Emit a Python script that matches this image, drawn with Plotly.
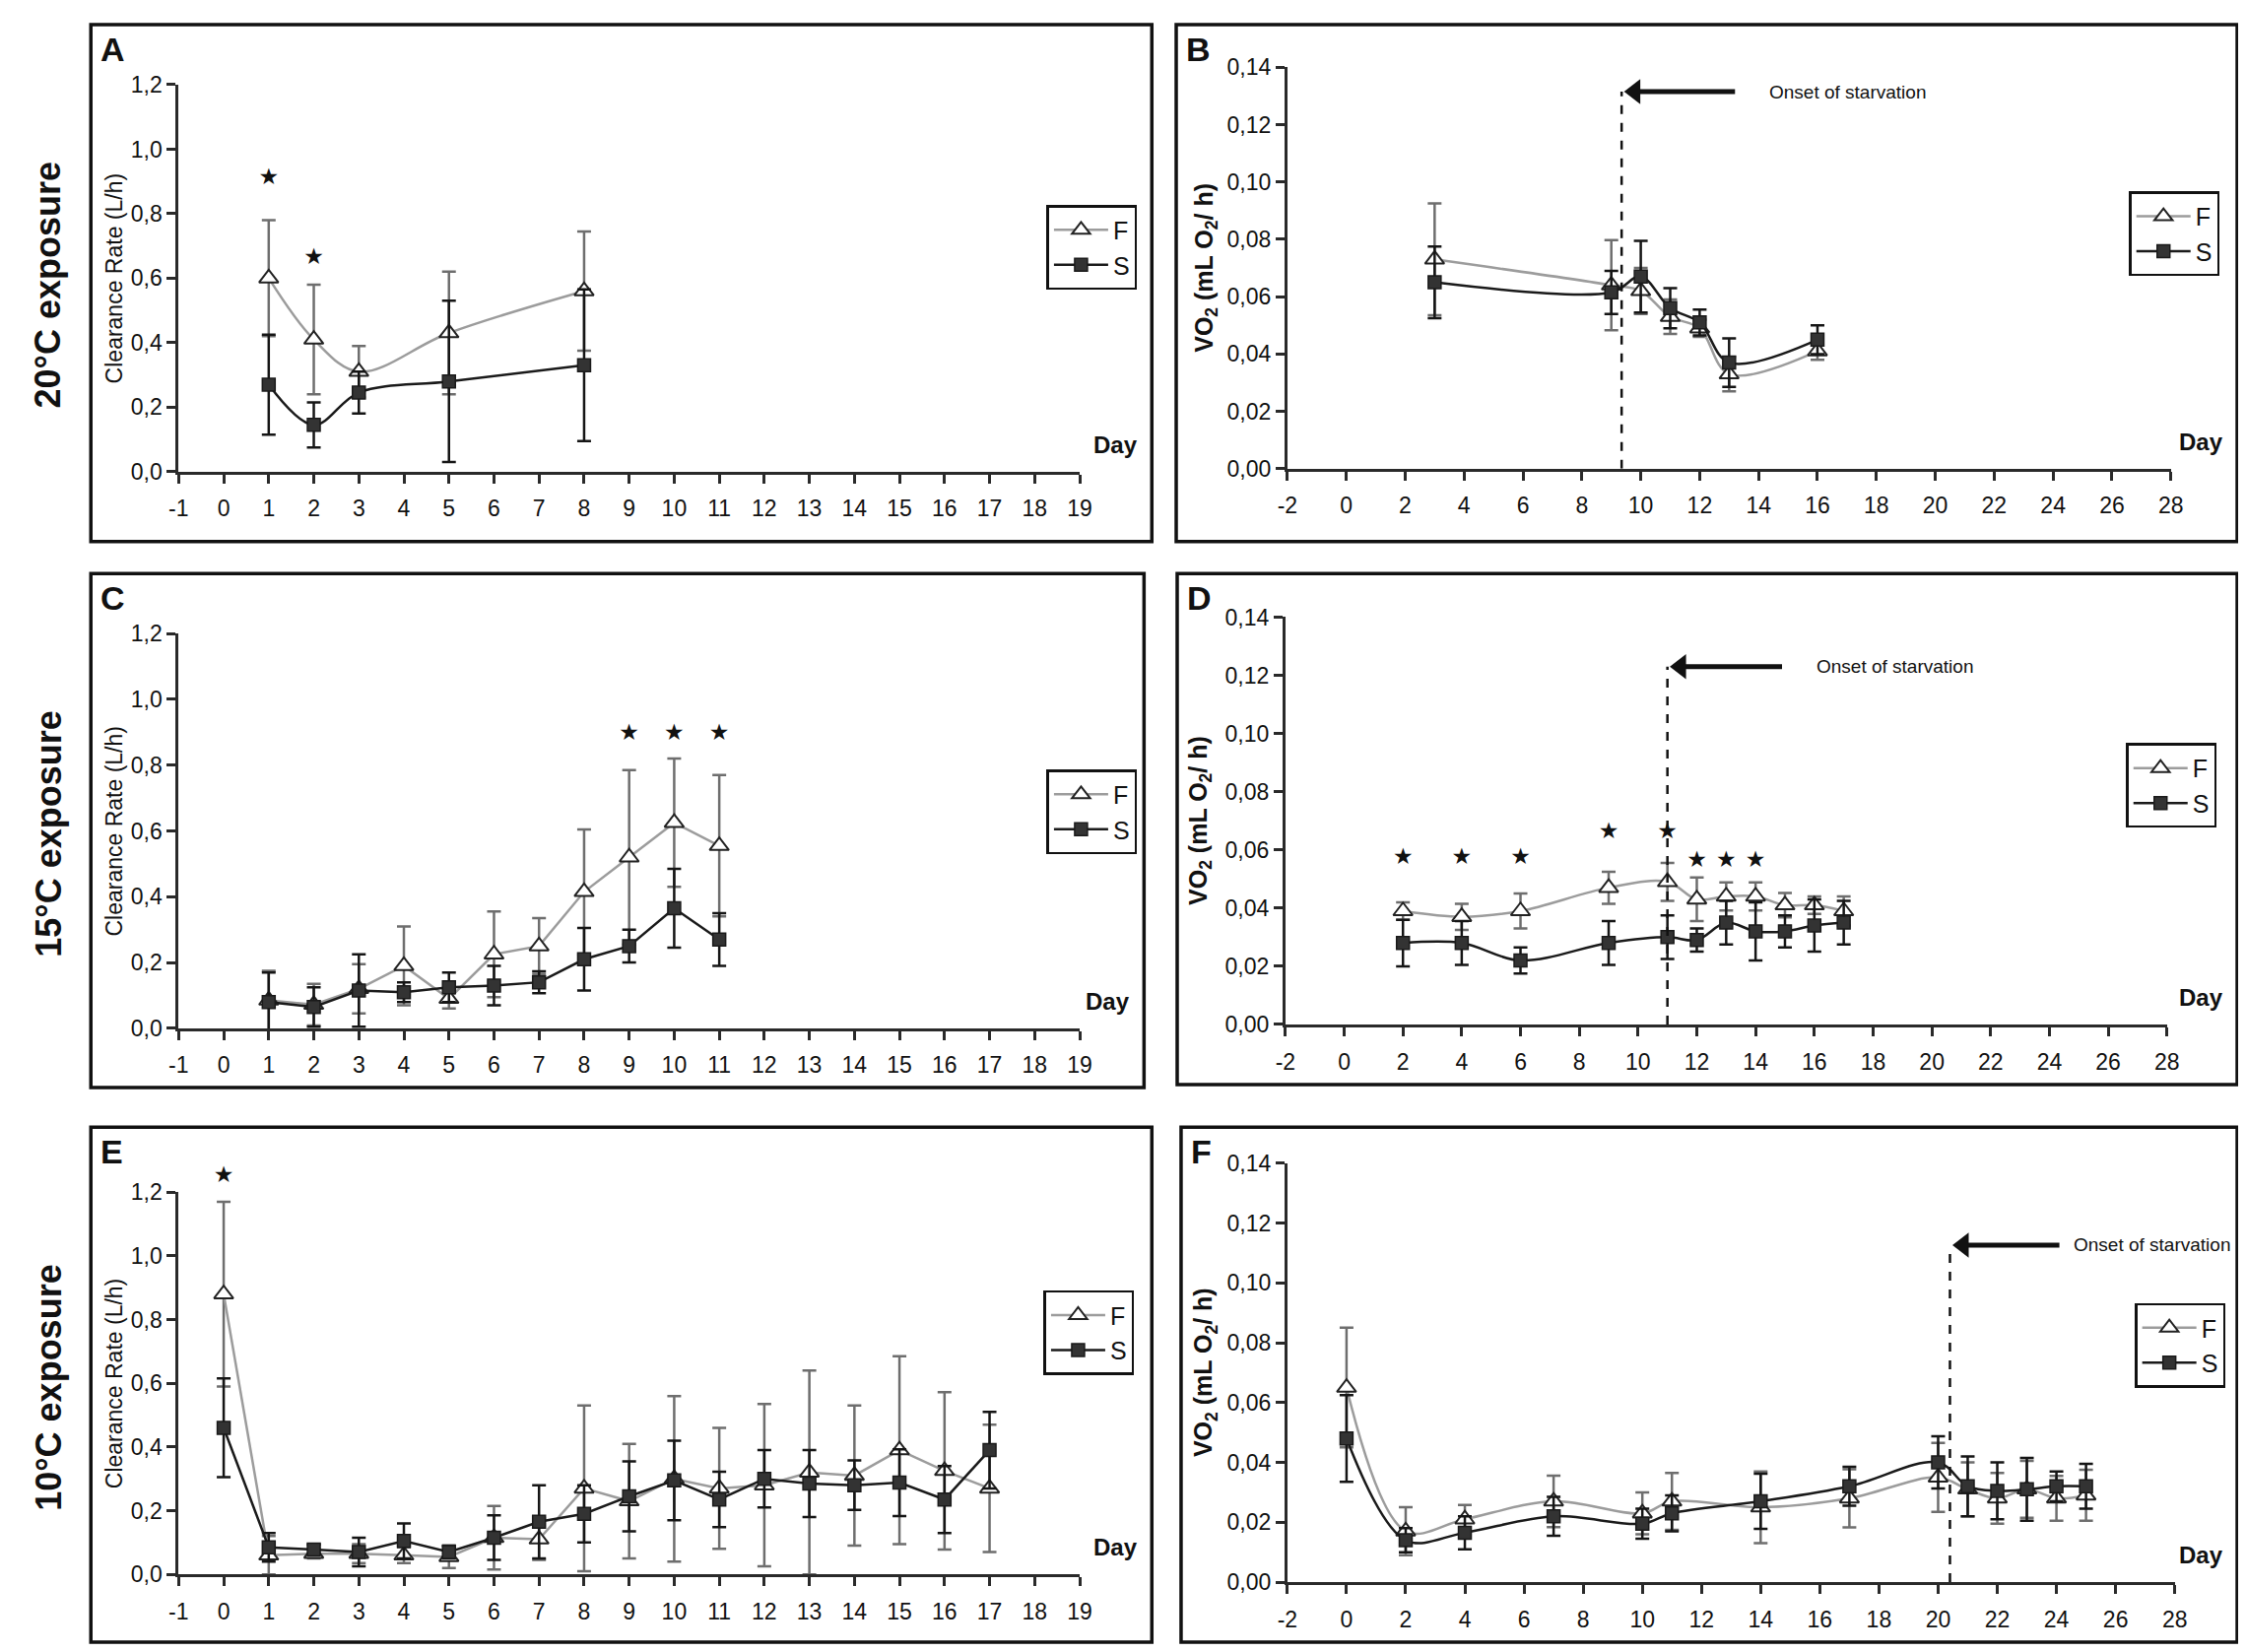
import plotly.graph_objects as go

# ========== values ==========
# A: 20°C, clearance rate (L/h)
a_days = [1, 2, 3, 5, 8]
a_f = [0.60, 0.41, 0.31, 0.43, 0.56]
a_f_err = [0.18, 0.17, 0.08, 0.19, 0.185]
a_s = [0.27, 0.145, 0.245, 0.28, 0.33]
a_s_err = [0.155, 0.07, 0.065, 0.25, 0.235]
a_star_days = [1, 2]
a_star_y = [0.91, 0.66]

# B: 20°C, VO2 (mL O2/h)
b_days = [3, 9, 10, 11, 12, 13, 16]
b_f = [0.073, 0.064, 0.062, 0.053, 0.049, 0.033, 0.041]
b_f_err = [0.0195, 0.0157, 0.008, 0.006, 0.003, 0.006, 0.003]
b_s = [0.065, 0.0615, 0.067, 0.056, 0.051, 0.037, 0.045]
b_s_err = [0.0125, 0.0075, 0.0125, 0.007, 0.0045, 0.0085, 0.005]
b_star_days = []
b_star_y = []

# C: 15°C, clearance rate
c_days = [1, 2, 3, 4, 5, 6, 7, 8, 9, 10, 11]
c_f = [0.085, 0.072, 0.12, 0.19, 0.09, 0.225, 0.25, 0.415, 0.52, 0.625, 0.555]
c_f_err = [0.09, 0.063, 0.075, 0.12, 0.03, 0.13, 0.085, 0.19, 0.265, 0.195, 0.215]
c_s = [0.08, 0.065, 0.115, 0.11, 0.125, 0.13, 0.14, 0.21, 0.25, 0.365, 0.27]
c_s_err = [0.09, 0.06, 0.11, 0.03, 0.045, 0.06, 0.033, 0.095, 0.05, 0.12, 0.08]
c_star_days = [9, 10, 11]
c_star_y = [0.895, 0.895, 0.895]

# D: 15°C, VO2
d_days = [2, 4, 6, 9, 11, 12, 13, 14, 15, 16, 17]
d_f = [0.039, 0.037, 0.039, 0.047, 0.049, 0.043, 0.044, 0.044, 0.041, 0.041, 0.039]
d_f_err = [0.003, 0.0045, 0.006, 0.0055, 0.0065, 0.0075, 0.0048, 0.0048, 0.0042, 0.003, 0.005]
d_s = [0.028, 0.028, 0.022, 0.028, 0.030, 0.029, 0.035, 0.032, 0.032, 0.034, 0.035]
d_s_err = [0.008, 0.0075, 0.0045, 0.0075, 0.0075, 0.004, 0.0075, 0.01, 0.0055, 0.009, 0.0075]
d_star_days = [2, 4, 6, 9, 11, 12, 13, 14]
d_star_y = [0.057, 0.057, 0.057, 0.066, 0.066, 0.056, 0.056, 0.056]

# E: 10°C, clearance rate
e_days = [0, 1, 2, 3, 4, 5, 6, 7, 8, 9, 10, 11, 12, 13, 14, 15, 16, 17]
e_f = [0.88, 0.06, 0.065, 0.065, 0.06, 0.055, 0.115, 0.11, 0.27, 0.23,
       0.30, 0.27, 0.28, 0.32, 0.31, 0.39, 0.325, 0.27]
e_f_err = [0.29, 0.06, 0.015, 0.03, 0.025, 0.035, 0.10, 0.065, 0.26, 0.18,
           0.26, 0.19, 0.255, 0.32, 0.22, 0.295, 0.247, 0.20]
e_s = [0.46, 0.085, 0.078, 0.07, 0.105, 0.07, 0.115, 0.165, 0.19, 0.245,
       0.295, 0.235, 0.30, 0.285, 0.28, 0.288, 0.235, 0.39]
e_s_err = [0.155, 0.045, 0.015, 0.045, 0.055, 0.02, 0.07, 0.115, 0.09, 0.11,
           0.125, 0.087, 0.09, 0.105, 0.078, 0.105, 0.105, 0.12]
e_star_days = [0]
e_star_y = [1.25]

# F: 10°C, VO2
f_days = [0, 2, 4, 7, 10, 11, 14, 17, 20, 21, 22, 23, 24, 25]
f_f = [0.065, 0.017, 0.021, 0.027, 0.023, 0.027, 0.025, 0.028, 0.035, 0.031, 0.028, 0.031, 0.028, 0.029]
f_f_err = [0.02, 0.008, 0.0048, 0.0086, 0.007, 0.0095, 0.012, 0.0097, 0.0115, 0.009, 0.0085, 0.0095, 0.0075, 0.0085]
f_s = [0.048, 0.014, 0.0165, 0.022, 0.0195, 0.023, 0.027, 0.032, 0.040, 0.032, 0.0305, 0.031, 0.032, 0.032]
f_s_err = [0.0145, 0.004, 0.0055, 0.0065, 0.005, 0.006, 0.0092, 0.0065, 0.0087, 0.01, 0.0095, 0.0105, 0.005, 0.0075]
f_star_days = []
f_star_y = []

# onset of starvation: (day of dashed line, height of arrow, arrow tail day, text start day)
b_onset = (9.35, 0.1315, 13.2, 14.3)
d_onset = (11.0, 0.123, 14.9, 16.0)
f_onset = (20.4, 0.1126, 24.1, 24.5)

row_labels = ["20°C exposure", "15°C exposure", "10°C exposure"]

cr_ticks = [0, 0.2, 0.4, 0.6, 0.8, 1.0, 1.2]
vo_ticks = [0, 0.02, 0.04, 0.06, 0.08, 0.10, 0.12, 0.14]
cr_days_ticks = list(range(-1, 20))
vo_days_ticks = list(range(-2, 29, 2))

# ========== layout in pixels ==========
W, H = 2280, 1677
FONT = "Liberation Sans"
INK = "#111111"
STAR_HEADROOM = 0.1   # star axes reach 10% above the visible value axis


def fx(px):
    return px / W


def fy(py):
    return 1 - py / H


panels = [
    dict(letter="A", kind="cr", days=a_days, f=a_f, f_err=a_f_err, s=a_s, s_err=a_s_err,
         star_days=a_star_days, star_y=a_star_y, smooth=True, onset=None,
         box=(75, 4, 1163, 537), plot=(165, 66, 1089, 465), legend=(1148, 190), ytitle_x=99),
    dict(letter="B", kind="vo", days=b_days, f=b_f, f_err=b_f_err, s=b_s, s_err=b_s_err,
         star_days=b_star_days, star_y=b_star_y, smooth=True, onset=b_onset,
         box=(1188, 4, 2276, 537), plot=(1302, 48, 2208, 462), legend=(2258, 176), ytitle_x=1218),
    dict(letter="C", kind="cr", days=c_days, f=c_f, f_err=c_f_err, s=c_s, s_err=c_s_err,
         star_days=c_star_days, star_y=c_star_y, smooth=False, onset=None,
         box=(75, 570, 1155, 1100), plot=(165, 632, 1089, 1039), legend=(1148, 772), ytitle_x=99),
    dict(letter="D", kind="vo", days=d_days, f=d_f, f_err=d_f_err, s=d_s, s_err=d_s_err,
         star_days=d_star_days, star_y=d_star_y, smooth=True, onset=d_onset,
         box=(1189, 570, 2276, 1097), plot=(1300, 615, 2204, 1035), legend=(2255, 745), ytitle_x=1212),
    dict(letter="E", kind="cr", days=e_days, f=e_f, f_err=e_f_err, s=e_s, s_err=e_s_err,
         star_days=e_star_days, star_y=e_star_y, smooth=False, onset=None,
         box=(75, 1141, 1163, 1672), plot=(165, 1208, 1089, 1602), legend=(1145, 1309), ytitle_x=99),
    dict(letter="F", kind="vo", days=f_days, f=f_f, f_err=f_f_err, s=f_s, s_err=f_s_err,
         star_days=f_star_days, star_y=f_star_y, smooth=True, onset=f_onset,
         box=(1193, 1141, 2276, 1672), plot=(1302, 1178, 2212, 1610), legend=(2264, 1322), ytitle_x=1218),
]

fig = go.Figure()
shapes = []
annotations = []
layout_axes = {}

for i, p in enumerate(panels, start=1):
    xa = "x" if i == 1 else f"x{i}"
    ya = "y" if i == 1 else f"y{i}"
    ys = f"y{i + 6}"          # hidden axis for significance stars
    leg = "legend" if i == 1 else f"legend{i}"
    shape = "spline" if p["smooth"] else "linear"

    x0, y0, x1, y1 = p["plot"]
    if p["kind"] == "cr":
        xr, xt = [-1, 19], cr_days_ticks
        yr, yt = [0, 1.2], cr_ticks
        ytxt = [f"{v:.1f}".replace(".", ",") for v in yt]
        ytitle = "Clearance Rate (L/h)"
        tsize = 23
    else:
        xr, xt = [-2, 28], vo_days_ticks
        yr, yt = [0, 0.14], vo_ticks
        ytxt = [f"{v:.2f}".replace(".", ",") for v in yt]
        ytitle = "<b>VO<sub>2</sub> (mL O<sub>2</sub>/ h)</b>"
        tsize = 25

    fig.add_trace(go.Scatter(
        x=p["days"], y=p["f"], name="F", mode="lines+markers",
        error_y=dict(type="data", array=p["f_err"], color="#6e6e6e", thickness=2.5, width=7),
        line=dict(color="#9c9c9c", width=2.5, shape=shape),
        marker=dict(symbol="triangle-up", size=17, color="white", line=dict(color="#222", width=2)),
        xaxis=xa, yaxis=ya, legend=leg,
    ))
    fig.add_trace(go.Scatter(
        x=p["days"], y=p["s"], name="S", mode="lines+markers",
        error_y=dict(type="data", array=p["s_err"], color="#151515", thickness=2.5, width=7),
        line=dict(color="#1a1a1a", width=2.5, shape=shape),
        marker=dict(symbol="square", size=13, color="#333", line=dict(color="#1a1a1a", width=1.5)),
        xaxis=xa, yaxis=ya, legend=leg,
    ))
    if p["star_days"]:
        fig.add_trace(go.Scatter(
            x=p["star_days"], y=p["star_y"], mode="text", text=["★"] * len(p["star_days"]),
            textposition="middle center", showlegend=False, hoverinfo="skip",
            textfont=dict(family="DejaVu Sans", size=23, color=INK),
            xaxis=xa, yaxis=ys,
        ))

    axis_common = dict(showline=True, linecolor="#2a2a2a", linewidth=3, ticks="outside",
                       ticklen=9, tickwidth=2.5, tickcolor="#2a2a2a", showgrid=False,
                       zeroline=False, tickfont=dict(family=FONT, size=23, color=INK))
    layout_axes["xaxis" if i == 1 else f"xaxis{i}"] = dict(
        domain=[fx(x0), fx(x1)], anchor=ya, range=xr, tickvals=xt,
        ticktext=[str(v) for v in xt], ticklabelstandoff=6, **axis_common)
    layout_axes["yaxis" if i == 1 else f"yaxis{i}"] = dict(
        domain=[fy(y1), fy(y0)], anchor=xa, range=yr, tickvals=yt, ticktext=ytxt,
        **axis_common)
    # same scale as the value axis, just taller, so stars above the top still show
    layout_axes[f"yaxis{i + 6}"] = dict(
        domain=[fy(y1), fy(y0 - STAR_HEADROOM * (y1 - y0))], anchor=xa, visible=False,
        range=[yr[0], yr[1] * (1 + STAR_HEADROOM)], showgrid=False, zeroline=False)

    fig.update_layout({leg: dict(
        x=fx(p["legend"][0]), y=fy(p["legend"][1]), xanchor="right", yanchor="top",
        bgcolor="white", bordercolor=INK, borderwidth=2.5, itemwidth=55,
        font=dict(family=FONT, size=25, color=INK), tracegroupgap=0,
    )})

    # panel frame and letter
    bx0, by0, bx1, by1 = p["box"]
    shapes.append(dict(type="rect", xref="paper", yref="paper",
                       x0=fx(bx0), x1=fx(bx1), y0=fy(by1), y1=fy(by0),
                       line=dict(color=INK, width=3.5)))
    annotations.append(dict(text=f"<b>{p['letter']}</b>", xref="paper", yref="paper",
                            x=fx(bx0 + 8), y=fy(by0 + 4), xanchor="left", yanchor="top",
                            showarrow=False, font=dict(family=FONT, size=34, color=INK)))
    # y title
    annotations.append(dict(text=ytitle, xref="paper", yref="paper", textangle=-90,
                            x=fx(p["ytitle_x"]), y=fy((y0 + y1) / 2),
                            xanchor="center", yanchor="middle", showarrow=False,
                            font=dict(family=FONT, size=tsize, color=INK)))
    # "Day"
    annotations.append(dict(text="<b>Day</b>", xref="paper", yref="paper",
                            x=fx(bx1 - 12), y=fy(y1 - 28), xanchor="right", yanchor="middle",
                            showarrow=False, font=dict(family=FONT, size=24, color=INK)))

    if p["onset"] is not None:
        day, top, tail, text_day = p["onset"]
        shapes.append(dict(type="line", xref=xa, yref=ya, x0=day, x1=day, y0=0, y1=top,
                           line=dict(color=INK, width=2.5, dash="dash")))
        # arrow shaft + head
        shapes.append(dict(type="line", xref=xa, yref=ya, x0=day + 0.6, x1=tail, y0=top, y1=top,
                           line=dict(color=INK, width=5)))
        fig.add_trace(go.Scatter(
            x=[day + 0.45], y=[top], mode="markers", showlegend=False, cliponaxis=False,
            marker=dict(symbol="triangle-left", size=22, color=INK),
            xaxis=xa, yaxis=ya, hoverinfo="skip",
        ))
        annotations.append(dict(text="Onset of starvation", xref=xa, yref=ya, x=text_day, y=top,
                                xanchor="left", yanchor="middle", showarrow=False,
                                font=dict(family=FONT, size=19, color=INK)))

for r, lab in enumerate(row_labels):
    by0 = panels[2 * r]["box"][1]
    annotations.append(dict(text=f"<b>{lab}</b>", xref="paper", yref="paper", textangle=-90,
                            x=fx(31), y=fy(by0 + 268), xanchor="center", yanchor="middle",
                            showarrow=False, font=dict(family=FONT, size=36, color=INK)))

fig.update_layout(
    width=W, height=H, autosize=False,
    margin=dict(l=0, r=0, t=0, b=0),
    paper_bgcolor="white", plot_bgcolor="rgba(0,0,0,0)",
    shapes=shapes, annotations=annotations,
    **layout_axes,
)

fig.write_html("out.html")
